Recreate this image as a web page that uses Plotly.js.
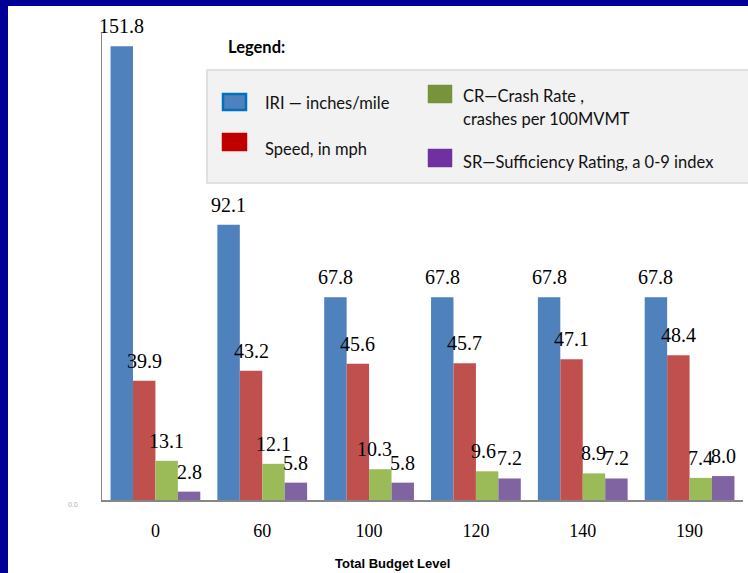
<!DOCTYPE html>
<html>
<head>
<meta charset="utf-8">
<script src="https://cdn.plot.ly/plotly-3.0.1.min.js"></script>
<style>
  html, body { margin: 0; padding: 0; background: #ffffff; }
  #wrap { position: relative; width: 748px; height: 573px; overflow: hidden; }
  #chart { position: absolute; left: 0; top: 0; width: 748px; height: 573px; }
  .frame { position: absolute; background: #000099; z-index: 5; }
</style>
</head>
<body>
<div id="wrap">
  <div id="chart"></div>
  <div class="frame" style="left:0;top:0;width:748px;height:6px;"></div>
  <div class="frame" style="left:0;top:0;width:8px;height:573px;"></div>
</div>
<script>
// Budget levels and the four performance measures at each level
const budgetLevels = ['0', '60', '100', '120', '140', '190'];
const iri   = [151.8, 92.1, 67.8, 67.8, 67.8, 67.8];
const speed = [39.9, 43.2, 45.6, 45.7, 47.1, 48.4];
const crashRate = [13.1, 12.1, 10.3, 9.6, 8.9, 7.4];
const sufficiency = [2.8, 5.8, 5.8, 7.2, 7.2, 8.0];

const seriesNames = ['IRI', 'Speed', 'CR', 'SR'];
const seriesValues = [iri, speed, crashRate, sufficiency];
const barColors = ['#4F81BD', '#C0504D', '#9BBB59', '#8064A2'];

// Plot-area geometry (pixels)
const W = 748, H = 573;
const M = { l: 102, r: 5, t: 33, b: 73 };
const plotW = W - M.l - M.r;
const plotH = H - M.t - M.b;
const fx = px => (px - M.l) / plotW;
const fy = py => (H - M.b - py) / plotH;

const traces = seriesValues.map((vals, i) => ({
  type: 'bar',
  name: seriesNames[i],
  x: budgetLevels,
  y: vals,
  marker: { color: barColors[i], line: { width: 0 } },
  hoverinfo: 'x+y+name'
}));

// Value labels above each bar, offset to the bar's slot within its group.
// Crash-rate labels that crowd their neighbour are nudged a little left.
const groupFrac = 1 - 0.16;
const slotPx = (plotW / budgetLevels.length) * groupFrac / seriesValues.length;
const crowdedNudge = { '2-2': -6, '2-3': -4 };
const annotations = [];
seriesValues.forEach((vals, i) => {
  vals.forEach((v, j) => {
    annotations.push({
      x: j, y: v, xref: 'x', yref: 'y',
      text: v.toFixed(1), showarrow: false,
      xanchor: 'center', yanchor: 'bottom',
      xshift: (i - 1.5) * slotPx + (crowdedNudge[i + '-' + j] || 0), yshift: 7,
      font: { family: 'Liberation Serif, Times New Roman, serif', size: 20, color: '#000000' }
    });
  });
});

// Hand-drawn legend panel
const legendFont = { family: 'Lato, Calibri, sans-serif', size: 16.5, color: '#111111' };
const legendTexts = [
  { t: 'IRI — inches/mile', x: 263, y: 103 },
  { t: 'Speed, in mph', x: 263, y: 149 },
  { t: 'CR—Crash Rate ,', x: 461, y: 96 },
  { t: 'crashes per 100MVMT', x: 461, y: 119 },
  { t: 'SR—Sufficiency Rating, a 0-9 index', x: 461, y: 162 }
];
legendTexts.forEach(o => annotations.push({
  xref: 'paper', yref: 'paper', x: fx(o.x), y: fy(o.y),
  xanchor: 'left', yanchor: 'middle', showarrow: false,
  text: o.t, font: legendFont
}));
annotations.push({
  xref: 'paper', yref: 'paper', x: fx(226), y: fy(47),
  xanchor: 'left', yanchor: 'middle', showarrow: false,
  text: '<b>Legend:</b>',
  font: { family: 'Lato, Calibri, sans-serif', size: 16.5, color: '#000000' }
});

// Axis title and the faint zero label
annotations.push({
  xref: 'paper', yref: 'paper', x: fx(392), y: fy(563),
  xanchor: 'center', yanchor: 'middle', showarrow: false,
  text: '<b>Total Budget Level</b>',
  font: { family: 'Liberation Sans, Arial, sans-serif', size: 13, color: '#000000' }
});
annotations.push({
  xref: 'paper', yref: 'paper', x: fx(73), y: fy(504),
  xanchor: 'center', yanchor: 'middle', showarrow: false,
  text: '0.0',
  font: { family: 'Liberation Sans, Arial, sans-serif', size: 7, color: '#b0b0b0' }
});

const rect = (x0, y0, x1, y1, fill, line, lw) => ({
  type: 'rect', xref: 'paper', yref: 'paper', layer: 'above',
  x0: fx(x0), x1: fx(x1), y0: fy(y1), y1: fy(y0),
  fillcolor: fill, line: { color: line, width: lw }
});
const shapes = [
  rect(207, 70, 770, 183, '#F2F2F2', '#D9D9D9', 1.5),
  rect(223, 94, 246, 110, '#4F81BD', '#0070C0', 2.5),
  rect(222, 133, 247, 151, '#C00000', '#C00000', 0.5),
  rect(428, 85, 452, 103, '#77933C', '#77933C', 0.5),
  rect(428, 149, 452, 167, '#7030A0', '#7030A0', 0.5)
];

const layout = {
  width: W, height: H,
  margin: M,
  paper_bgcolor: '#ffffff',
  plot_bgcolor: '#ffffff',
  barmode: 'group',
  bargap: 0.16,
  bargroupgap: 0,
  showlegend: false,
  xaxis: {
    type: 'category',
    range: [-0.5, budgetLevels.length - 0.5],
    showline: true, linecolor: '#868686', linewidth: 1.5,
    showgrid: false, zeroline: false,
    ticks: 'outside', ticklen: 14, tickcolor: 'rgba(0,0,0,0)',
    tickfont: { family: 'Liberation Serif, Times New Roman, serif', size: 18, color: '#000000' }
  },
  yaxis: {
    range: [0, 156.2],
    showline: true, linecolor: '#868686', linewidth: 1.5,
    showgrid: false, zeroline: false,
    showticklabels: false, ticks: ''
  },
  annotations: annotations,
  shapes: shapes
};

Plotly.newPlot('chart', traces, layout, { displayModeBar: false, staticPlot: true });
</script>
</body>
</html>
